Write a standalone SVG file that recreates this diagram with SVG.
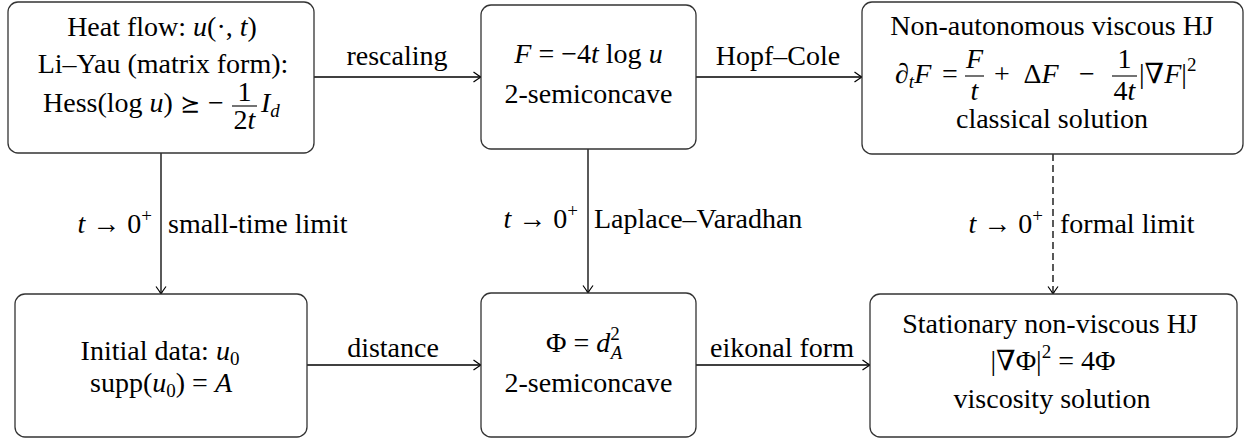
<svg xmlns="http://www.w3.org/2000/svg" width="1248" height="439" viewBox="0 0 1248 439">
<style>
text{font-family:"Liberation Serif","DejaVu Serif","DejaVu Sans",serif;font-size:28px;fill:#000}
.c{text-anchor:middle}
.e{text-anchor:end}
.i{font-style:italic}
.s{font-size:19px}
.m{font-weight:normal;font-size:24px}
.box{fill:#fff;stroke:#333;stroke-width:1.3}
.ln{stroke:#000;stroke-width:1.3;fill:none}
.bar{stroke:#000;stroke-width:1.1}
.dash{stroke-dasharray:7 4}
</style>
<defs>
<marker id="arr" viewBox="-9 -6 10 12" refX="0" refY="0" markerWidth="10" markerHeight="12" orient="auto" markerUnits="userSpaceOnUse">
<path d="M-7.5,-5 Q-2.5,-1.3 0,0 Q-2.5,1.3 -7.5,5" fill="none" stroke="#000" stroke-width="1.2"/>
</marker>
</defs>

<g id="connectors">
<line class="ln" x1="314" y1="77" x2="481" y2="77" marker-end="url(#arr)"/>
<text class="c" x="397" y="65">rescaling</text>
<line class="ln" x1="696" y1="77" x2="862" y2="77" marker-end="url(#arr)"/>
<text class="c" x="778" y="65">Hopf–Cole</text>
<line class="ln" x1="307" y1="365" x2="481" y2="365" marker-end="url(#arr)"/>
<text class="c" x="393" y="357">distance</text>
<line class="ln" x1="696" y1="365" x2="870" y2="365" marker-end="url(#arr)"/>
<text class="c" x="782" y="357">eikonal form</text>

<line class="ln" x1="161" y1="153" x2="161" y2="294" marker-end="url(#arr)"/>
<text class="e" x="152" y="233"><tspan class="i">t</tspan> → 0<tspan class="s" dy="-11">+</tspan></text>
<text x="168" y="233">small-time limit</text>

<line class="ln" x1="588" y1="149" x2="588" y2="293" marker-end="url(#arr)"/>
<text class="e" x="578" y="228"><tspan class="i">t</tspan> → 0<tspan class="s" dy="-11">+</tspan></text>
<text x="594" y="228">Laplace–Varadhan</text>

<line class="ln dash" x1="1053" y1="154" x2="1053" y2="294" marker-end="url(#arr)"/>
<text class="e" x="1043" y="233"><tspan class="i">t</tspan> → 0<tspan class="s" dy="-11">+</tspan></text>
<text x="1060" y="233">formal limit</text>
</g>

<g id="n-heat">
<rect class="box" x="8" y="2" width="306" height="151" rx="10"/>
<text class="c" x="162" y="36">Heat flow:  <tspan class="i">u</tspan>(·, <tspan class="i">t</tspan>)</text>
<text class="c" x="163" y="73">Li–Yau (matrix form):</text>
<text x="43" y="112">Hess(log <tspan class="i">u</tspan>)</text>
<text class="c m" x="190" y="112">⪰</text>
<text class="c" x="216" y="112">−</text>
<text class="c" x="244.5" y="101">1</text>
<line class="bar" x1="232" y1="106" x2="257" y2="106"/>
<text class="c" x="244.5" y="129">2<tspan class="i">t</tspan></text>
<text x="261" y="112"><tspan class="i">I</tspan><tspan class="i s" dy="5">d</tspan></text>
</g>

<g id="n-F">
<rect class="box" x="481" y="5" width="215" height="144" rx="10"/>
<text class="c" x="588.5" y="63"><tspan class="i">F</tspan> = −4<tspan class="i">t</tspan> log <tspan class="i">u</tspan></text>
<text class="c" x="588.5" y="103">2-semiconcave</text>
</g>

<g id="n-hj">
<rect class="box" x="862" y="2" width="381" height="152" rx="10"/>
<text class="c" x="1052" y="35">Non-autonomous viscous HJ</text>
<text x="895" y="83">∂<tspan class="i s" dy="5">t</tspan><tspan class="i" dy="-5">F</tspan></text>
<text class="c" x="950" y="83">=</text>
<text class="c i" x="974.5" y="68">F</text>
<line class="bar" x1="965" y1="76" x2="984" y2="76"/>
<text class="c i" x="974.5" y="100">t</text>
<text class="c" x="1002" y="83">+</text>
<text class="c" x="1041" y="83">Δ<tspan class="i">F</tspan></text>
<text class="c" x="1087" y="83">−</text>
<text class="c" x="1124.5" y="68">1</text>
<line class="bar" x1="1112" y1="76" x2="1137" y2="76"/>
<text class="c" x="1124.5" y="100">4<tspan class="i">t</tspan></text>
<text x="1139" y="83">|∇<tspan class="i">F</tspan>|<tspan class="s" dy="-12">2</tspan></text>
<text class="c" x="1052" y="128">classical solution</text>
</g>

<g id="n-init">
<rect class="box" x="15" y="294" width="292" height="143" rx="10"/>
<text class="c" x="160" y="360">Initial data:  <tspan class="i">u</tspan><tspan class="s" dy="5">0</tspan></text>
<text class="c" x="161" y="392">supp(<tspan class="i">u</tspan><tspan class="s" dy="5">0</tspan><tspan dy="-5">) = </tspan><tspan class="i">A</tspan></text>
</g>

<g id="n-phi">
<rect class="box" x="481" y="293" width="215" height="144" rx="10"/>
<text x="546" y="352">Φ = <tspan class="i">d</tspan><tspan class="s" dy="-12">2</tspan><tspan class="i s" dx="-9" dy="19">A</tspan></text>
<text class="c" x="588.5" y="392">2-semiconcave</text>
</g>

<g id="n-stat">
<rect class="box" x="870" y="294" width="367" height="143" rx="10"/>
<text class="c" x="1050" y="333">Stationary non-viscous HJ</text>
<text class="c" x="1053" y="370">|∇Φ|<tspan class="s" dy="-12">2</tspan><tspan dy="12"> = 4Φ</tspan></text>
<text class="c" x="1052" y="408">viscosity solution</text>
</g>
</svg>
